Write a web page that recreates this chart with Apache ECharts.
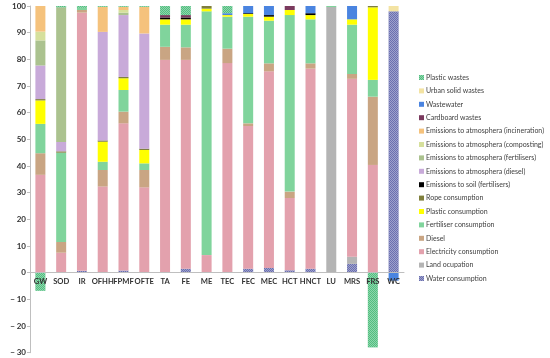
<!DOCTYPE html>
<html><head><meta charset="utf-8">
<script src="https://cdn.jsdelivr.net/npm/echarts@6/dist/echarts.min.js"></script>
<style>html,body{margin:0;padding:0;background:#fff}#c{width:550px;height:358px}</style>
</head><body><div id="c"></div>
<script>
const categories = ["GW","SOD","IR","OFHH","FPMF","OFTE","TA","FE","ME","TEC","FEC","MEC","HCT","HNCT","LU","MRS","FRS","WC"];
const yTicks = [-30,-20,-10,0,10,20,30,40,50,60,70,80,90,100];
// series listed bottom of stack -> top of stack (values in %)
const waterConsumption   = [0,0,0.7,0,0.8,0,0,1.5,0,0,1.5,1.8,0.9,1.5,0,3.3,0,98];
const landOcupation      = [0,0,0,0,0,0,0,0,0,0,0,0,0,0,99.6,2.7,0,0];
const electricity        = [36.7,7.5,96.8,32.3,55.2,32,79.8,78.3,6.6,78.6,53.5,73.7,27.1,75,0,66.7,40.4,0];
const diesel             = [8.1,4,1,6.2,4.4,6.5,4.9,4.7,0,5.4,1,3,2.4,2,0,1.8,25.6,0];
const fertiliserCons     = [11,33.5,0.8,3.1,8.1,2.5,8.3,8.5,91.4,12,40,16,66.2,16.5,0.4,18.5,6.3,0];
const plasticCons        = [8.8,0,0,7.5,4.4,5,2,2,1,0.6,1,1.5,1.9,1.6,0,2,27.2,0];
const ropeCons           = [0.5,0.5,0,0.5,0.5,0.5,0,0,1,0,0,0,0,0,0,0,0.5,0];
const emSoilFert         = [0,0,0,0,0,0,0.7,0.7,0,0,0.3,0.6,0,0.7,0,0,0,0];
const emAtmDiesel        = [12.6,3.5,0,40.7,23.2,43.2,0,0,0,0,0,0,0,0,0,0,0,0];
const emAtmFert          = [9.4,50.5,0,0,0.9,0,0,0,0,0,0,0,0,0,0,0,0,0];
const emAtmComposting    = [3.3,0,0,0,1.0,0,0,0,0,0,0,0,0,0,0,0,0,0];
const emAtmIncineration  = [9.6,0,0,9.4,1.2,10,0,0,0,0,0,0,0,0,0,0,0,0];
const cardboardWastes    = [0,0,0,0,0,0,0.9,0.9,0,0,0,0,1.5,0,0,0,0,0];
const wastewater         = [0,0,0,0,0,0,0,0,0,0.7,2.7,3.4,0,2.7,0,5,0,-3];
const urbanSolidWastes   = [0,0,0,0,0,0,0,0,0,0,0,0,0,0,0,0,0,2];
const plasticWastes      = [-6.8,0.5,0.7,0.3,0.3,0.3,3.4,3.4,0,2.7,0,0,0,0,0,0,-28,0];

const checker = {symbol: 'rect', symbolSize: 1, dashArrayX: [[1, 1], [0, 1, 1, 0]], dashArrayY: [1, 0], color: 'rgba(255,255,255,0.35)'};
const seriesDefs = [
  ["Water consumption", waterConsumption, "#6a6fb0", true],
  ["Land ocupation", landOcupation, "#b4b4b4"],
  ["Electricity consumption", electricity, "#e3a1ad"],
  ["Diesel", diesel, "#c9a583"],
  ["Fertiliser consumption", fertiliserCons, "#80d49c"],
  ["Plastic consumption", plasticCons, "#ffff00"],
  ["Rope consumption", ropeCons, "#7f7f3c"],
  ["Emissions to soil (fertilisers)", emSoilFert, "#000000"],
  ["Emissions to atmosphera (diesel)", emAtmDiesel, "#c8aad9"],
  ["Emissions to atmosphera (fertilisers)", emAtmFert, "#abc28f"],
  ["Emissions to atmosphera (composting)", emAtmComposting, "#d6e09c"],
  ["Emissions to atmosphera (incineration)", emAtmIncineration, "#f5c27c"],
  ["Cardboard wastes", cardboardWastes, "#7a3a5e"],
  ["Wastewater", wastewater, "#4a84e0"],
  ["Urban solid wastes", urbanSolidWastes, "#f3e3a3"],
  ["Plastic wastes", plasticWastes, "#52bf80", true]
];

const chart = echarts.init(document.getElementById('c'));
const font = 'Lato, "Liberation Sans", sans-serif';
chart.setOption({
  animation: false,
  grid: {left: 30, right: 146, top: 6, bottom: 5.3, containLabel: false, outerBoundsMode: 'none'},
  legend: {
    orient: 'vertical', left: 414, top: 69,
    data: seriesDefs.map(s => s[0]).reverse(),
    itemWidth: 5, itemHeight: 5, itemGap: 6.4,
    icon: 'rect',
    textStyle: {fontFamily: font, fontSize: 7, color: '#404040', padding: [0,0,0,-3]}
  },
  xAxis: {
    type: 'category', data: categories, z: 5,
    axisLine: {onZero: false, lineStyle: {color: '#bfbfbf'}},
    axisTick: {show: false},
    axisLabel: {interval: 0, fontFamily: font, fontSize: 7.6, fontWeight: 'bold', color: '#333', margin: 5}
  },
  yAxis: {
    type: 'value', min: yTicks[0], max: yTicks[yTicks.length - 1], interval: 10,
    name: '%', nameLocation: 'middle', nameGap: 27, nameRotate: 90,
    nameTextStyle: {fontFamily: font, fontSize: 8, color: '#333'},
    axisLine: {show: true, lineStyle: {color: '#bfbfbf'}},
    axisTick: {show: true, length: 3, lineStyle: {color: '#bfbfbf'}},
    splitLine: {show: false},
    axisLabel: {fontFamily: font, fontSize: 8, fontWeight: 'bold', color: '#333', margin: 4,
      formatter: v => v < 0 ? '\u2212 ' + Math.abs(v) : String(v)}
  },
  series: seriesDefs.map(([name, data, color, pattern]) => ({
    name, type: 'bar', stack: 'total', data, barWidth: 10,
    itemStyle: pattern ? {color, decal: checker} : {color}
  }))
});
// move the category axis (line + labels) up to the zero line, using the value axis scale
const yZero = chart.convertToPixel({yAxisIndex: 0}, 0);
const yBottom = chart.convertToPixel({yAxisIndex: 0}, yTicks[0]);
chart.setOption({xAxis: {offset: -(yBottom - yZero)}});
</script></body></html>
